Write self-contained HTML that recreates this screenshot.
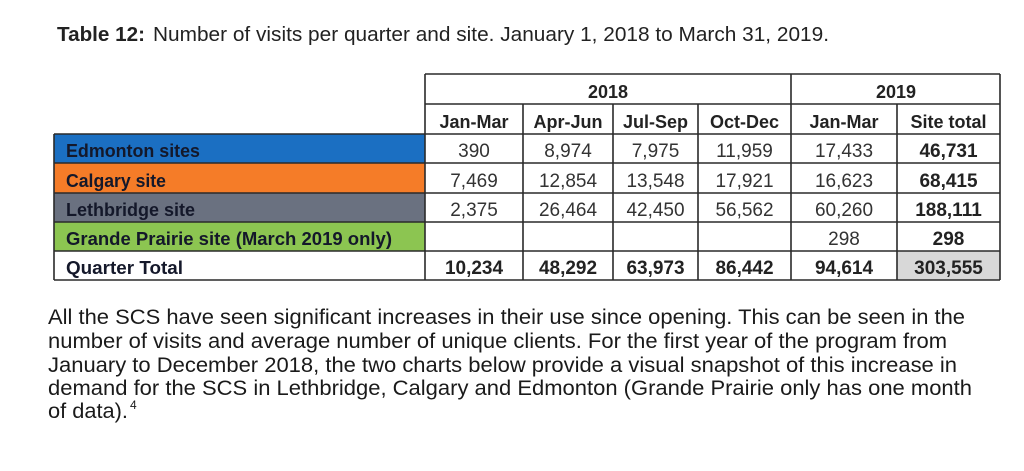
<!DOCTYPE html>
<html>
<head>
<meta charset="utf-8">
<style>
html,body{margin:0;padding:0;background:#fff;}
svg{display:block;}
</style>
</head>
<body>
<svg width="1024" height="471" viewBox="0 0 1024 471" xmlns="http://www.w3.org/2000/svg">
<rect x="0" y="0" width="1024" height="471" fill="#ffffff"/>

<!-- Title -->
<text x="57" y="41" font-family="Liberation Sans, Arial, sans-serif" font-size="20" font-weight="bold" fill="#222" textLength="88" lengthAdjust="spacingAndGlyphs">Table 12:</text>
<text x="153" y="41" font-family="Liberation Sans, Arial, sans-serif" font-size="20" fill="#222" textLength="676" lengthAdjust="spacingAndGlyphs">Number of visits per quarter and site. January 1, 2018 to March 31, 2019.</text>

<!-- Row fills -->
<rect x="54" y="134" width="371" height="29" fill="#1b6fc2"/>
<rect x="54" y="163" width="371" height="30" fill="#f57c28"/>
<rect x="54" y="193" width="371" height="29" fill="#6a7180"/>
<rect x="54" y="222" width="371" height="29" fill="#8cc551"/>
<rect x="897" y="251" width="103" height="29" fill="#d8d8d8"/>

<!-- Grid lines -->
<g stroke="#2a2a2a" stroke-width="1.6" fill="none">
  <line x1="425" y1="74" x2="1000" y2="74"/>
  <line x1="425" y1="104" x2="1000" y2="104"/>
  <line x1="54" y1="134" x2="1000" y2="134"/>
  <line x1="54" y1="163" x2="1000" y2="163"/>
  <line x1="54" y1="193" x2="1000" y2="193"/>
  <line x1="54" y1="222" x2="1000" y2="222"/>
  <line x1="54" y1="251" x2="1000" y2="251"/>
  <line x1="54" y1="280" x2="1000" y2="280"/>
  <line x1="54" y1="134" x2="54" y2="280"/>
  <line x1="425" y1="74" x2="425" y2="280"/>
  <line x1="791" y1="74" x2="791" y2="280"/>
  <line x1="1000" y1="74" x2="1000" y2="280"/>
  <line x1="523" y1="104" x2="523" y2="280"/>
  <line x1="613" y1="104" x2="613" y2="280"/>
  <line x1="698" y1="104" x2="698" y2="280"/>
  <line x1="897" y1="104" x2="897" y2="280"/>
</g>

<!-- Header text -->
<g font-family="Liberation Sans, Arial, sans-serif" font-size="18" font-weight="bold" fill="#222" text-anchor="middle">
  <text x="608" y="98">2018</text>
  <text x="896" y="98">2019</text>
  <text x="474" y="128">Jan-Mar</text>
  <text x="568" y="128">Apr-Jun</text>
  <text x="655.5" y="128">Jul-Sep</text>
  <text x="744.5" y="128">Oct-Dec</text>
  <text x="844" y="128">Jan-Mar</text>
  <text x="948.5" y="128">Site total</text>
</g>

<!-- Row labels -->
<g font-family="Liberation Sans, Arial, sans-serif" font-size="18" font-weight="bold" fill="#14182a">
  <text x="66" y="157" textLength="134" lengthAdjust="spacingAndGlyphs">Edmonton sites</text>
  <text x="66" y="187" textLength="100" lengthAdjust="spacingAndGlyphs">Calgary site</text>
  <text x="66" y="216" textLength="129" lengthAdjust="spacingAndGlyphs">Lethbridge site</text>
  <text x="66" y="245" textLength="326" lengthAdjust="spacingAndGlyphs">Grande Prairie site (March 2019 only)</text>
  <text x="66" y="274" textLength="117" lengthAdjust="spacingAndGlyphs">Quarter Total</text>
</g>

<!-- Data regular -->
<g font-family="Liberation Sans, Arial, sans-serif" font-size="19" fill="#333" text-anchor="middle">
  <text x="474" y="157">390</text>
  <text x="568" y="157">8,974</text>
  <text x="655.5" y="157">7,975</text>
  <text x="744.5" y="157">11,959</text>
  <text x="844" y="157">17,433</text>

  <text x="474" y="187">7,469</text>
  <text x="568" y="187">12,854</text>
  <text x="655.5" y="187">13,548</text>
  <text x="744.5" y="187">17,921</text>
  <text x="844" y="187">16,623</text>

  <text x="474" y="216">2,375</text>
  <text x="568" y="216">26,464</text>
  <text x="655.5" y="216">42,450</text>
  <text x="744.5" y="216">56,562</text>
  <text x="844" y="216">60,260</text>

  <text x="844" y="245">298</text>
</g>

<!-- Data bold -->
<g font-family="Liberation Sans, Arial, sans-serif" font-size="19" font-weight="bold" fill="#222" text-anchor="middle">
  <text x="948.5" y="157">46,731</text>
  <text x="948.5" y="187">68,415</text>
  <text x="948.5" y="216">188,111</text>
  <text x="948.5" y="245">298</text>

  <text x="474" y="274">10,234</text>
  <text x="568" y="274">48,292</text>
  <text x="655.5" y="274">63,973</text>
  <text x="744.5" y="274">86,442</text>
  <text x="844" y="274">94,614</text>
  <text x="948.5" y="274">303,555</text>
</g>

<!-- Paragraph -->
<g font-family="Liberation Sans, Arial, sans-serif" font-size="21" fill="#1a1a1a">
  <text x="48" y="324" textLength="917" lengthAdjust="spacingAndGlyphs">All the SCS have seen significant increases in their use since opening. This can be seen in the</text>
  <text x="48" y="348" textLength="899" lengthAdjust="spacingAndGlyphs">number of visits and average number of unique clients. For the first year of the program from</text>
  <text x="48" y="372" textLength="909" lengthAdjust="spacingAndGlyphs">January to December 2018, the two charts below provide a visual snapshot of this increase in</text>
  <text x="48" y="395" textLength="924" lengthAdjust="spacingAndGlyphs">demand for the SCS in Lethbridge, Calgary and Edmonton (Grande Prairie only has one month</text>
  <text x="48" y="418" textLength="80" lengthAdjust="spacingAndGlyphs">of data).</text>
  <text x="130" y="409" font-size="12">4</text>
</g>
</svg>
</body>
</html>
